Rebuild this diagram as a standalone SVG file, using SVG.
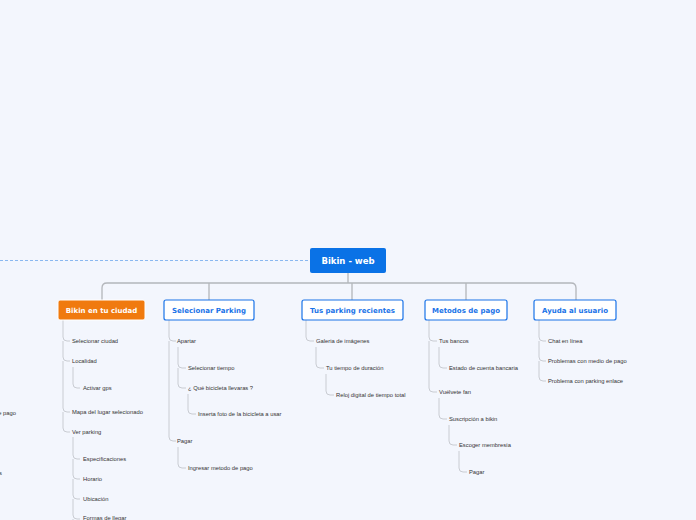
<svg xmlns="http://www.w3.org/2000/svg" width="696" height="520" viewBox="0 0 696 520">
<style>
.t{font-family:"Liberation Sans",Arial,sans-serif;font-size:5.8px;fill:#333}
.h{font-family:"DejaVu Sans",sans-serif;font-size:7px;font-weight:bold;fill:#1a73e8;text-anchor:middle}
.c{fill:none;stroke:#c9ccd2;stroke-width:1}
.m{fill:none;stroke:#b3b6bb;stroke-width:1.3}
.b{fill:#fff;stroke:#1a73e8;stroke-width:1.2}
</style>
<rect width="696" height="520" fill="#f3f6fd"/>
<g id="connectors">
<path d="M0 260.5H310" stroke="#8ab8f0" stroke-width="1" stroke-dasharray="3,2" fill="none"/>
<path class="m" d="M348 273V283M102 300V288Q102 283 107 283H571Q576 283 576 288V300M209 283V300M352 283V300M466 283V300"/>
<path class="c" d="M63 320V337Q63 341 67 341H70M63 341V357Q63 361 67 361H70M63 361V408Q63 412 67 412H70M63 412V428Q63 432 67 432H70"/>
<path class="c" d="M73 367V384Q73 388 77 388H80"/>
<path class="c" d="M73 437V455Q73 459 77 459H80M73 459V475Q73 479 77 479H80M73 479V495Q73 499 77 499H80M73 499V515Q73 519 77 519H80M73 519V520"/>
<path class="c" d="M169 320V337Q169 341 173 341H176M169 341V437Q169 441 173 441H176"/>
<path class="c" d="M178 347V364Q178 368 182 368H186M178 368V384Q178 388 182 388H186"/>
<path class="c" d="M188 394V410Q188 414 192 414H196"/>
<path class="c" d="M178 447V464Q178 468 182 468H186"/>
<path class="c" d="M306 320V337Q306 341 310 341H314"/>
<path class="c" d="M316 347V364Q316 368 320 368H324"/>
<path class="c" d="M326 374V391Q326 395 330 395H334"/>
<path class="c" d="M429 320V337Q429 341 433 341H437M429 341V388Q429 392 433 392H437"/>
<path class="c" d="M439 347V364Q439 368 443 368H447"/>
<path class="c" d="M439 398V415Q439 419 443 419H447"/>
<path class="c" d="M449 425V441Q449 445 453 445H457"/>
<path class="c" d="M459 451V468Q459 472 463 472H467"/>
<path class="c" d="M539 320V337Q539 341 543 341H546M539 341V357Q539 361 543 361H546M539 361V377Q539 381 543 381H546"/>
</g>
<g id="root"><rect x="310" y="248" width="76" height="25" rx="2" fill="#0a72e6"/><text x="348" y="264" font-family="DejaVu Sans,sans-serif" font-size="8.5" font-weight="bold" fill="#fff" text-anchor="middle">Bikin - web</text></g>
<g id="n1"><rect x="58" y="300" width="87" height="20" rx="2" fill="#f07a0f" stroke="#fff" stroke-width="1"/><text x="101.5" y="312.5" class="h" style="fill:#fff">Bikin en tu ciudad</text></g>
<g id="n2"><rect x="164" y="300" width="90" height="20" rx="2" class="b"/><text x="209" y="312.5" class="h">Selecionar Parking</text></g>
<g id="n3"><rect x="302" y="300" width="101" height="20" rx="2" class="b"/><text x="352.5" y="312.5" class="h">Tus parking recientes</text></g>
<g id="n4"><rect x="425" y="300" width="82" height="20" rx="2" class="b"/><text x="466" y="312.5" class="h">Metodos de pago</text></g>
<g id="n5"><rect x="534" y="300" width="82" height="20" rx="2" class="b"/><text x="575" y="312.5" class="h">Ayuda al usuario</text></g>
<g id="items">
<text class="t" x="16" y="415" text-anchor="end">e pago</text>
<text class="t" x="2" y="475" text-anchor="end">s</text>
<text class="t" x="72" y="343">Selecionar ciudad</text>
<text class="t" x="72" y="363">Localidad</text>
<text class="t" x="83" y="390">Activar gps</text>
<text class="t" x="72" y="414">Mapa del lugar selecionado</text>
<text class="t" x="72" y="434">Ver parking</text>
<text class="t" x="83" y="461">Especificaciones</text>
<text class="t" x="83" y="481">Horario</text>
<text class="t" x="83" y="501">Ubicación</text>
<text class="t" x="83" y="520">Formas de llegar</text>
<text class="t" x="177" y="343">Apartar</text>
<text class="t" x="188" y="370">Selecionar tiempo</text>
<text class="t" x="188" y="390">¿ Qué bicicleta llevaras ?</text>
<text class="t" x="198" y="416">Inserta foto de la bicicleta a usar</text>
<text class="t" x="177" y="443">Pagar</text>
<text class="t" x="188" y="470">Ingresar metodo de pago</text>
<text class="t" x="316" y="343">Galeria de imágenes</text>
<text class="t" x="326" y="370">Tu tiempo de duración</text>
<text class="t" x="336" y="397">Reloj digital de tiempo total</text>
<text class="t" x="439" y="343">Tus bancos</text>
<text class="t" x="449" y="370">Estado de cuenta bancaria</text>
<text class="t" x="439" y="394">Vuélvete fan</text>
<text class="t" x="449" y="421">Suscripción a bikin</text>
<text class="t" x="459" y="447">Escoger membresía</text>
<text class="t" x="469" y="474">Pagar</text>
<text class="t" x="548" y="343">Chat en línea</text>
<text class="t" x="548" y="363">Problemas con medio de pago</text>
<text class="t" x="548" y="383">Problema con parking enlace</text>
</g>
</svg>
